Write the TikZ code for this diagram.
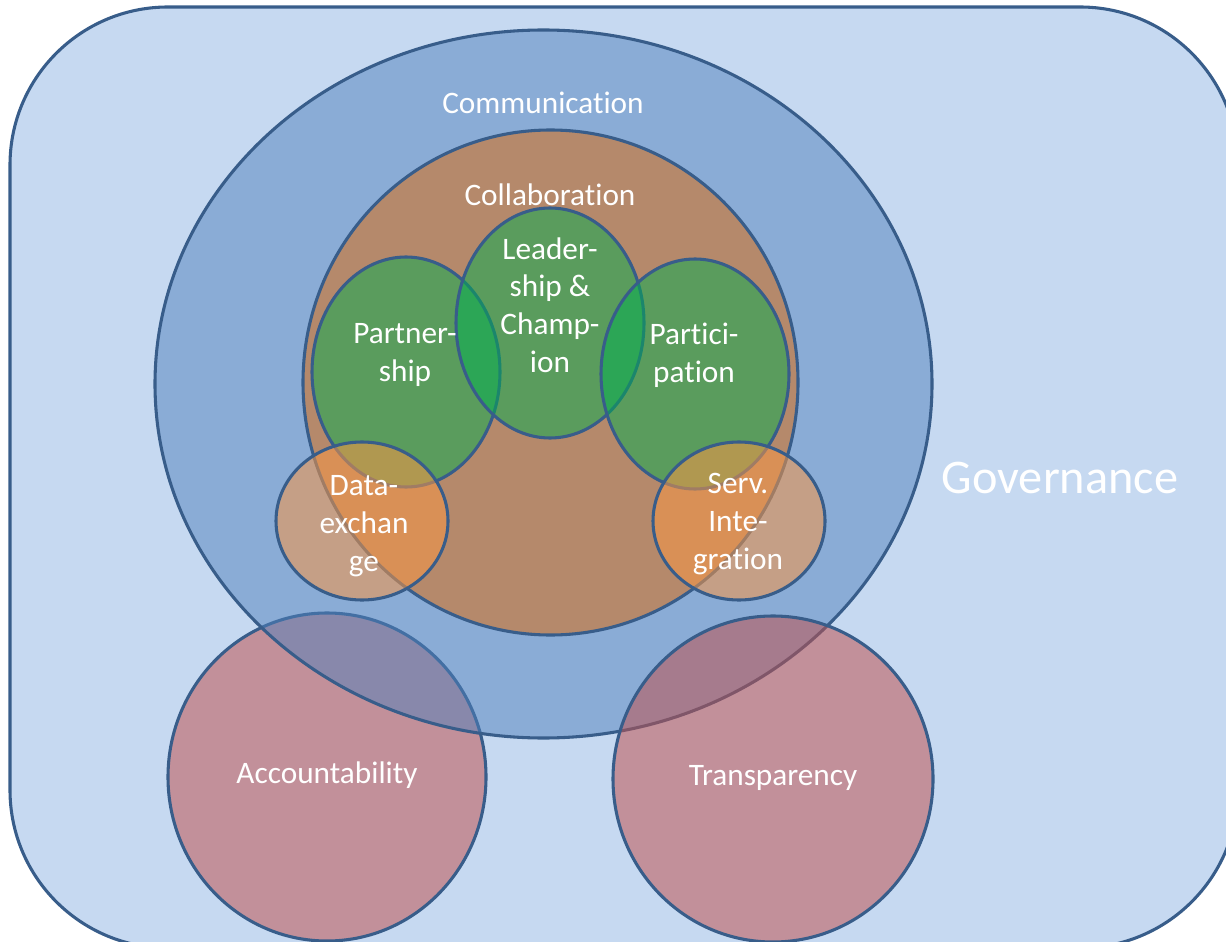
\documentclass[tikz,border=0pt]{standalone}
\usepackage{fontspec}
\setmainfont{Carlito}[Ligatures=NoCommon]

\definecolor{govfill}{HTML}{C6D9F1}
\definecolor{rim}{HTML}{385D8A}
\definecolor{comblue}{HTML}{4F81BD}
\definecolor{collbrown}{HTML}{B5896B}
\definecolor{pgreen}{HTML}{00B050}
\definecolor{lorange}{HTML}{F79646}
\definecolor{accred}{HTML}{C0504D}

\begin{document}
\begin{tikzpicture}[x=0.02cm,y=-0.02cm,
    ring/.style={draw=rim,line width=1.75pt},
    lbl/.style={text=white,align=center,font=\fontsize{17.8}{21.5}\selectfont},
    biglbl/.style={text=white,font=\fontsize{27.5}{32}\selectfont}]
 \useasboundingbox (0,0) rectangle (1226,942);
 \clip (0,0) rectangle (1226,942);

 % governance frame
 \draw[ring,fill=govfill,rounded corners=3.16cm] (10,7) rectangle (1238,948);

 % accountability sits under communication
 \draw[ring,fill=accred,fill opacity=.53] (327,777) ellipse [x radius=159,y radius=164];

 % communication and collaboration
 \draw[ring,fill=comblue,fill opacity=.5] (543.5,384) ellipse [x radius=388.5,y radius=354];
 \draw[ring,fill=collbrown] (550.5,382.5) ellipse [x radius=247.5,y radius=252.5];

 % green ring
 \foreach \cx/\cy in {406/372, 550/323, 695/374}
   \draw[ring,fill=pgreen,fill opacity=.5] (\cx,\cy) ellipse [x radius=94,y radius=115];

 % orange links
 \foreach \cx in {362, 739}
   \draw[ring,fill=lorange,fill opacity=.55] (\cx,521) ellipse [x radius=86,y radius=79];

 % transparency sits above communication
 \draw[ring,fill=accred,fill opacity=.53] (773,779) ellipse [x radius=160,y radius=163];

 % labels
 \node[lbl] (comm) at (543,103) {Communication};
 \node[lbl] (coll) at (550,195) {Collaboration};
 \node[lbl] (lead) at (550,305) {Leader-\\ship \&\\Champ-\\ion};
 \node[lbl] (partner) at (405,355) {Partner-\\ship};
 \node[lbl] (partic) at (694,355) {Partici-\\pation};
 \node[lbl] (data) at (364,526) {Data-\\exchan\\ge};
 \node[lbl] (serv) at (738,524) {Serv.\\Inte-\\gration};
 \node[lbl] (acc) at (327,775) {Accountability};
 \node[lbl] (transp) at (773,778) {Transparency};
 \node[biglbl] (gov) at (1060,478) {Governance};
\end{tikzpicture}
\end{document}
